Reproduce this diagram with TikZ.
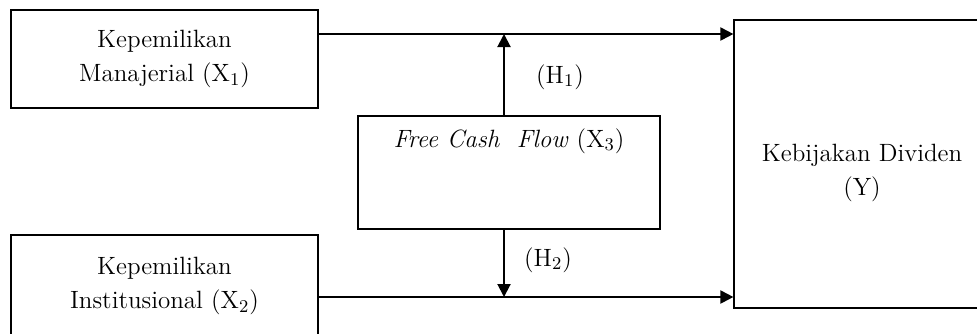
\documentclass[tikz,border=0pt]{standalone}
\usepackage{amsmath}
\usepackage{amsfonts}
\usetikzlibrary{arrows.meta}

\begin{document}
\begin{tikzpicture}[x=.5pt, y=-.5pt,
	box/.style={draw, line width=.6pt, align=center, inner sep=0pt, font=\fontsize{12.5}{17}\selectfont},
	lbl/.style={font=\fontsize{12.5}{17}\selectfont},
	link/.style={-{Triangle[length=6.5pt,width=6.5pt]}, line width=1pt}]
	\useasboundingbox (0,0) rectangle (977,333);
	\clip (0,0) rectangle (977,333);
	\node [box, minimum width=153.5pt, minimum height=49pt] (x1) at (164.5,59) {Kepemilikan\\Manajerial (X$_1$)};
	\node [box, minimum width=153.5pt, minimum height=51pt] (x2) at (164.5,286) {Kepemilikan\\Institusional (X$_2$)};
	\node [box, minimum width=151pt, inner ysep=4pt, text height=11.5pt, text depth=37pt] (fcf) at (509,172.5) {\textit{Free Cash\ \ Flow} (X$_3$)};
	\node [box, minimum width=128pt, minimum height=144pt, text height=35pt, text depth=3.5pt] (y) at (862,164) {Kebijakan Dividen\\(Y)};
	\coordinate (m1) at (504,34);
	\coordinate (m2) at (504,297);
	\draw [link] (x1.east |- m1) -- (y.west |- m1);
	\draw [link] (fcf.north -| m1) -- (m1);
	\draw [link] (x2.east |- m2) -- (y.west |- m2);
	\draw [link] (fcf.south -| m2) -- (m2);
	\node [lbl] (h1) at (560,77) {(H$_1$)};
	\node [lbl] (h2) at (548,260) {(H$_2$)};
\end{tikzpicture}
\end{document}
